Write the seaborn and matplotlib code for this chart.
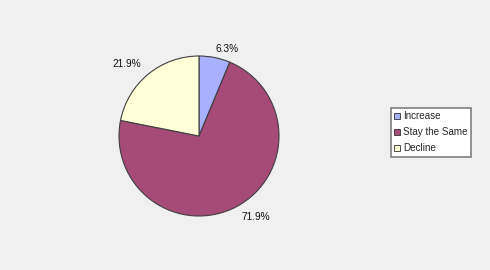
import numpy as np
import matplotlib
matplotlib.use("Agg")
import matplotlib.pyplot as plt
import seaborn as sns

categories = ["Increase", "Stay the Same", "Decline"]
values = [6.3, 71.9, 21.9]
colors = ["#a9b0ff", "#a64a78", "#ffffd8"]

sns.set_theme(style="white")
plt.rcParams['font.family'] = ['Liberation Sans', 'DejaVu Sans']

bg = "#f0f0f0"
fig = plt.figure(figsize=(4.9, 2.7), dpi=100, facecolor=bg)
cx, cy, r = 199, 136, 80
ax = fig.add_axes([(cx - r) / 490, (270 - cy - r) / 270, 2 * r / 490, 2 * r / 270])
ax.set_facecolor(bg)
palette = sns.color_palette(colors)
wedges, _ = ax.pie(values, colors=palette, startangle=90, counterclock=False,
                   wedgeprops=dict(edgecolor="#404040", linewidth=0.8))
ax.set_xlim(-1, 1)
ax.set_ylim(-1, 1)
ax.set_aspect("equal")
ax.axis("off")

for w, v in zip(wedges, values):
    ang = np.deg2rad((w.theta1 + w.theta2) / 2)
    if np.sin(ang) > 0.9:
        dx, dy = 1.05, 1.05
    else:
        dx, dy = 1.14, 1.08
    x, y = dx * np.cos(ang), dy * np.sin(ang)
    ax.text(x, y, f"{v:.1f}%", fontsize=7.3, color="#111111",
            ha="left" if x > 0 else "right", va="bottom" if y > 0 else "top")

leg = ax.legend(wedges, categories, loc="upper left",
                bbox_to_anchor=(391 / 490, 1 - 108 / 270), bbox_transform=fig.transFigure,
                borderaxespad=0, fontsize=7.1, frameon=True, fancybox=False,
                edgecolor="#808080", facecolor="white", framealpha=1,
                handlelength=0.6, handleheight=0.6, handletextpad=0.25,
                labelspacing=0.6, borderpad=0.35)
leg.get_frame().set_linewidth(1.2)
for h in leg.legend_handles:
    h.set_linewidth(0.6)
    h.set_edgecolor("#303030")

fig.savefig("out.png", dpi=100, facecolor=bg)
